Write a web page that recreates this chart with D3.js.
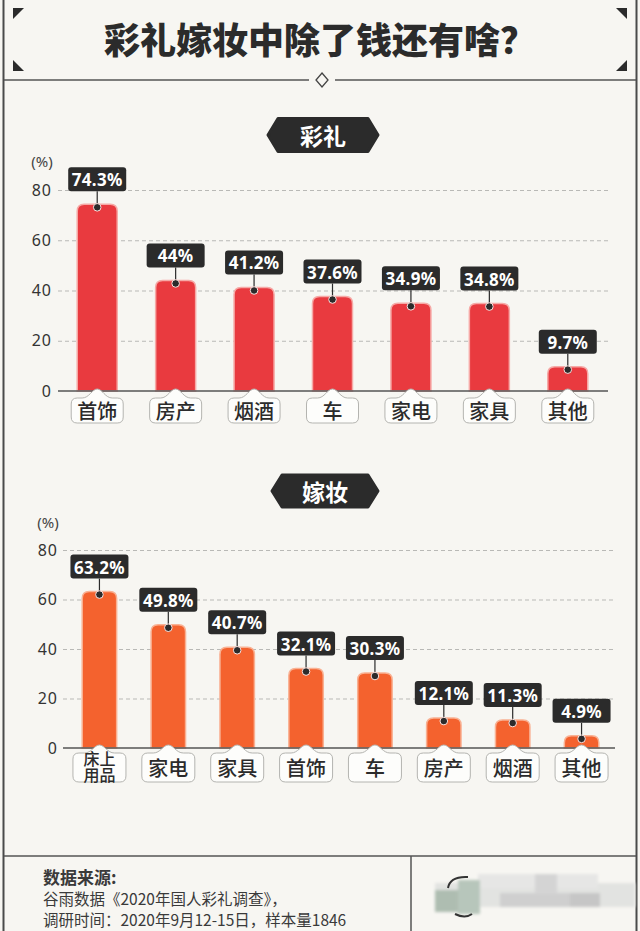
<!DOCTYPE html>
<html>
<head>
<meta charset="utf-8">
<script src="https://cdn.jsdelivr.net/npm/d3@7"></script>
<style>
  body { margin: 0; background: #f7f6f2; }
  svg { display: block; }
</style>
</head>
<body>
<script>
var width = 640,
    height = 931;

// 彩礼
var giftCats = ["首饰", "房产", "烟酒", "车", "家电", "家具", "其他"];
var giftVals = [74.3, 44, 41.2, 37.6, 34.9, 34.8, 9.7];

// 嫁妆
var dowryCats = ["床上用品", "家电", "家具", "首饰", "车", "房产", "烟酒", "其他"];
var dowryVals = [63.2, 49.8, 40.7, 32.1, 30.3, 12.1, 11.3, 4.9];

var yTicks = [0, 20, 40, 60, 80];

var cjk = "'Noto Sans CJK SC', 'Noto Sans', sans-serif";
var num = "'Noto Sans', 'DejaVu Sans', sans-serif";
var ink = "#2b2b2b";

var svg = d3.select("body").append("svg")
  .attr("width", width)
  .attr("height", height);

svg.append("rect")
  .attr("width", width)
  .attr("height", height)
  .attr("fill", "#f7f6f2");

// Frame
svg.append("line").attr("x1", 3.5).attr("x2", 3.5).attr("y1", 0).attr("y2", height)
  .attr("stroke", "#4a4a4a").attr("stroke-width", 2);
svg.append("line").attr("x1", 636.5).attr("x2", 636.5).attr("y1", 0).attr("y2", height)
  .attr("stroke", "#4a4a4a").attr("stroke-width", 2);

// Title corners
var corners = [
  [[13, 8], [24, 8], [13, 19]],
  [[627, 8], [616, 8], [627, 19]],
  [[13, 71], [13, 60], [24, 71]],
  [[627, 71], [627, 60], [616, 71]]
];
svg.selectAll(".corner").data(corners).enter().append("path")
  .attr("class", "corner")
  .attr("d", function (d) { return "M" + d.join("L") + "Z"; })
  .attr("fill", ink);

// Title
svg.append("text")
  .attr("x", 320)
  .attr("y", 38)
  .attr("text-anchor", "middle")
  .attr("dominant-baseline", "central")
  .style("font-family", cjk)
  .style("font-size", "36px")
  .style("font-weight", 900)
  .style("fill", ink)
  .text("彩礼嫁妆中除了钱还有啥？");

// Divider with diamond
svg.append("line").attr("x1", 4).attr("x2", 309).attr("y1", 80).attr("y2", 80)
  .attr("stroke", "#555").attr("stroke-width", 1.5);
svg.append("line").attr("x1", 335).attr("x2", 636).attr("y1", 80).attr("y2", 80)
  .attr("stroke", "#555").attr("stroke-width", 1.5);
svg.append("path")
  .attr("d", "M322,73L328,80L322,87L316,80Z")
  .attr("fill", "#f7f6f2")
  .attr("stroke", "#444")
  .attr("stroke-width", 1.3);

function badge(cx, cy, w, h, label) {
  var g = svg.append("g");
  var hw = w / 2, hh = h / 2, tip = 10;
  g.append("path")
    .attr("d", "M" + (cx - hw) + "," + cy +
      "L" + (cx - hw + tip) + "," + (cy - hh) +
      "L" + (cx + hw - tip) + "," + (cy - hh) +
      "L" + (cx + hw) + "," + cy +
      "L" + (cx + hw - tip) + "," + (cy + hh) +
      "L" + (cx - hw + tip) + "," + (cy + hh) + "Z")
    .attr("fill", ink)
    .attr("stroke", ink)
    .attr("stroke-linejoin", "round")
    .attr("stroke-width", 3);
  g.append("text")
    .attr("x", cx)
    .attr("y", cy)
    .attr("text-anchor", "middle")
    .attr("dominant-baseline", "central")
    .style("font-family", cjk)
    .style("font-size", "23px")
    .style("font-weight", 700)
    .style("fill", "#fff")
    .text(label);
}

function barPath(x, y, w, h, r) {
  r = Math.min(r, h, w / 2);
  return "M" + x + "," + (y + h) +
    "L" + x + "," + (y + r) +
    "Q" + x + "," + y + " " + (x + r) + "," + y +
    "L" + (x + w - r) + "," + y +
    "Q" + (x + w) + "," + y + " " + (x + w) + "," + (y + r) +
    "L" + (x + w) + "," + (y + h) + "Z";
}

function tagPath(cx, peak, top, bottom, w) {
  var l = cx - w / 2, rr = cx + w / 2, r = 6;
  return "M" + (l + r) + "," + top +
    "L" + (cx - 15) + "," + top +
    "C" + (cx - 8) + "," + top + " " + (cx - 5) + "," + peak + " " + cx + "," + peak +
    "C" + (cx + 5) + "," + peak + " " + (cx + 8) + "," + top + " " + (cx + 15) + "," + top +
    "L" + (rr - r) + "," + top +
    "Q" + rr + "," + top + " " + rr + "," + (top + r) +
    "L" + rr + "," + (bottom - r) +
    "Q" + rr + "," + bottom + " " + (rr - r) + "," + bottom +
    "L" + (l + r) + "," + bottom +
    "Q" + l + "," + bottom + " " + l + "," + (bottom - r) +
    "L" + l + "," + (top + r) +
    "Q" + l + "," + top + " " + (l + r) + "," + top + "Z";
}

function drawChart(o) {
  var x = d3.scaleBand()
    .domain(o.cats)
    .range(o.xRange)
    .paddingInner(o.pad)
    .paddingOuter(o.pad / 2);

  var y = d3.scaleLinear()
    .domain([0, 80])
    .range([o.base, o.top]);

  var g = svg.append("g");

  // gridlines
  g.append("g")
    .attr("transform", "translate(" + o.gridX[0] + ",0)")
    .call(d3.axisLeft(y).tickValues(yTicks.slice(1)).tickSize(-(o.gridX[1] - o.gridX[0])).tickFormat(""))
    .call(function (a) { a.select(".domain").remove(); })
    .selectAll("line")
    .attr("stroke", "#b9b9b6")
    .attr("stroke-dasharray", "4,3");

  // y labels
  g.append("g")
    .attr("transform", "translate(" + o.gridX[0] + ",0)")
    .call(d3.axisLeft(y).tickValues(yTicks).tickSize(0).tickPadding(o.tickPad))
    .call(function (a) { a.select(".domain").remove(); })
    .selectAll("text")
    .style("font-family", num)
    .style("font-size", "16px")
    .style("letter-spacing", "1px")
    .style("fill", "#333");

  g.append("text")
    .attr("x", o.unitX)
    .attr("y", o.unitY)
    .attr("text-anchor", "middle")
    .attr("dominant-baseline", "central")
    .style("font-family", num)
    .style("font-size", "15px")
    .style("fill", "#444")
    .text("(%)");

  var data = o.cats.map(function (c, i) { return { cat: c, val: o.vals[i] }; });

  // bars
  g.selectAll(".bar").data(data).enter().append("path")
    .attr("class", "bar")
    .attr("d", function (d) {
      return barPath(x(d.cat), y(d.val), x.bandwidth(), y(0) - y(d.val), 7);
    })
    .attr("fill", o.color)
    .attr("stroke", o.halo)
    .attr("stroke-width", 1.5);

  // baseline
  g.append("line")
    .attr("x1", o.gridX[0]).attr("x2", o.gridX[1])
    .attr("y1", y(0)).attr("y2", y(0))
    .attr("stroke", "#555")
    .attr("stroke-width", 1.5);

  // value callouts
  var lab = g.selectAll(".lab").data(data).enter().append("g")
    .attr("class", "lab")
    .attr("transform", function (d) {
      return "translate(" + (x(d.cat) + x.bandwidth() / 2) + "," + y(d.val) + ")";
    });

  lab.append("line")
    .attr("x1", 0).attr("x2", 0)
    .attr("y1", -13).attr("y2", 3)
    .attr("stroke", ink)
    .attr("stroke-width", 1.2);

  lab.append("circle")
    .attr("cx", 0).attr("cy", 3)
    .attr("r", 3.8)
    .attr("fill", ink)
    .attr("stroke", "#fbe3e0")
    .attr("stroke-width", 1);

  lab.append("rect")
    .attr("x", -29).attr("y", -37)
    .attr("width", 58).attr("height", 24)
    .attr("rx", 3)
    .attr("fill", ink);

  lab.append("text")
    .attr("x", 0).attr("y", -24.5)
    .attr("text-anchor", "middle")
    .attr("dominant-baseline", "central")
    .style("font-family", num)
    .style("font-size", "17px")
    .style("font-weight", 700)
    .style("letter-spacing", "0.3px")
    .style("fill", "#fff")
    .text(function (d) { return d.val + "%"; });

  // category tags
  var tag = g.selectAll(".tag").data(data).enter().append("g")
    .attr("class", "tag")
    .attr("transform", function (d) {
      return "translate(" + (x(d.cat) + x.bandwidth() / 2) + "," + y(0) + ")";
    });

  tag.append("path")
    .attr("d", tagPath(0, o.tag[0], o.tag[1], o.tag[2], o.tagW))
    .attr("fill", "#fdfdfb")
    .attr("stroke", "#b4b4b0")
    .attr("stroke-width", 1);

  tag.each(function (d) {
    var t = d3.select(this);
    var txt = t.append("text")
      .attr("text-anchor", "middle")
      .style("font-family", cjk)
      .style("font-weight", 500)
      .style("fill", ink);
    if (d.cat.length > 2) {
      // two-line label in one text element
      txt.style("font-size", "16px");
      txt.append("tspan").attr("x", 0).attr("y", o.tagMid - 2.5).text(d.cat.slice(0, 2));
      txt.append("tspan").attr("x", 0).attr("y", o.tagMid + 14).text(d.cat.slice(2));
    } else {
      txt.attr("x", 0)
        .attr("y", o.tagMid)
        .attr("dominant-baseline", "central")
        .style("font-size", "20px")
        .text(d.cat);
    }
  });
}

badge(323, 135, 110, 33, "彩礼");
drawChart({
  cats: giftCats, vals: giftVals,
  color: "#e93a3f", halo: "#f6a9a6",
  xRange: [58, 607], pad: 0.49,
  base: 391, top: 190,
  gridX: [58, 608], tickPad: 6,
  unitX: 42, unitY: 161,
  tag: [-2, 7, 32], tagW: 52, tagMid: 19.5
});

badge(325, 491, 106, 32, "嫁妆");
drawChart({
  cats: dowryCats, vals: dowryVals,
  color: "#f4622e", halo: "#f9b193",
  xRange: [65, 616], pad: 0.5,
  base: 748, top: 550,
  gridX: [63, 615], tickPad: 5,
  unitX: 48, unitY: 522,
  tag: [-3, 5, 34], tagW: 53, tagMid: 19
});

// Footer
svg.append("line").attr("x1", 4).attr("x2", 636).attr("y1", 856).attr("y2", 856)
  .attr("stroke", "#555").attr("stroke-width", 1.5);
svg.append("line").attr("x1", 411).attr("x2", 411).attr("y1", 856).attr("y2", height)
  .attr("stroke", "#555").attr("stroke-width", 1.5);

var foot = svg.append("g")
  .style("font-family", cjk)
  .style("fill", "#3a3a3a");
foot.append("text").attr("x", 43).attr("y", 884)
  .style("font-size", "17px").style("font-weight", 700).text("数据来源:");
foot.append("text").attr("x", 43).attr("y", 905)
  .style("font-size", "15.5px").text("谷雨数据《2020年国人彩礼调查》，");
foot.append("text").attr("x", 43).attr("y", 926)
  .style("font-size", "15.5px").text("调研时间：2020年9月12-15日，样本量1846");

// blurred logo
var defs = svg.append("defs");
defs.append("filter").attr("id", "blur")
  .append("feGaussianBlur").attr("stdDeviation", 1.5);
var logo = svg.append("g").attr("filter", "url(#blur)");
var blocks = [
  [435, 883, 200, 24, "#e2e3e1"],
  [478, 874, 120, 14, "#e6e6e5"],
  [435, 890, 30, 22, "#aebdb1"],
  [458, 880, 22, 34, "#b7c6bb"],
  [500, 893, 90, 14, "#cfcfcf"],
  [535, 874, 22, 20, "#d4d4d4"],
  [570, 893, 30, 14, "#c6c6c6"]
];
blocks.forEach(function (b) {
  logo.append("rect").attr("x", b[0]).attr("y", b[1])
    .attr("width", b[2]).attr("height", b[3]).attr("fill", b[4]);
});
svg.append("path").attr("d", "M468,877 Q450,876 448,888")
  .attr("fill", "none").attr("stroke", "#333").attr("stroke-width", 2);
svg.append("path").attr("d", "M455,914 Q465,919 472,914")
  .attr("fill", "none").attr("stroke", "#333").attr("stroke-width", 2);
</script>
</body>
</html>
